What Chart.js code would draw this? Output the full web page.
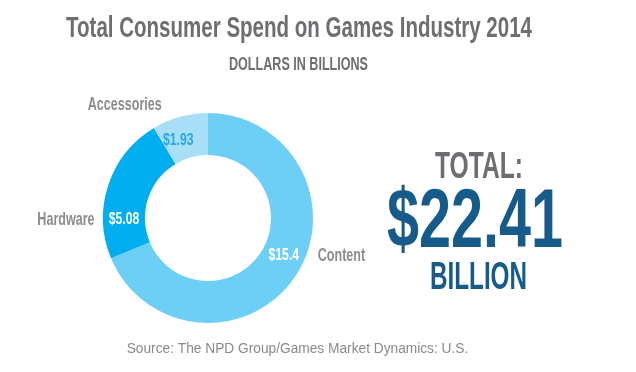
<!DOCTYPE html>
<html>
<head>
<meta charset="utf-8">
<script src="https://cdn.jsdelivr.net/npm/chart.js@4.4.0/dist/chart.umd.min.js"></script>
<style>
  html, body { margin: 0; padding: 0; background: #fff; }
  canvas { display: block; }
</style>
</head>
<body>
<canvas id="spendChart" width="636" height="372"></canvas>
<script>
// data (dollars in billions)
const categories = ['Content', 'Hardware', 'Accessories'];
const spend = [15.4, 5.08, 1.93];
const valueLabels = ['$15.4', '$5.08', '$1.93'];
const sliceColors = ['#6dcff6', '#00aeef', '#a8dff7'];

const FONT = '"Liberation Sans", Arial, sans-serif';

// draw text squeezed horizontally to mimic the condensed face
function condText(ctx, text, x, y, size, weight, color, align, sx) {
  ctx.save();
  ctx.font = `${weight} ${size}px ${FONT}`;
  ctx.fillStyle = color;
  ctx.textAlign = 'left';
  ctx.textBaseline = 'alphabetic';
  const w = ctx.measureText(text).width * sx;
  let left = x;
  if (align === 'center') left = x - w / 2;
  else if (align === 'right') left = x - w;
  ctx.translate(left, y);
  ctx.scale(sx, 1);
  ctx.fillText(text, 0, 0);
  ctx.restore();
}

function fitText(ctx, text, cx, baseline, capH, width, weight, color) {
  const size = capH / 0.688;
  ctx.save();
  ctx.font = `${weight} ${size}px ${FONT}`;
  const sx = width / ctx.measureText(text).width;
  ctx.restore();
  condText(ctx, text, cx, baseline, size, weight, color, 'center', sx);
}

const sliceLabels = {
  id: 'sliceLabels',
  afterDatasetsDraw(chart, args, opts) {
    const ctx = chart.ctx;
    chart.getDatasetMeta(0).data.forEach((arc, i) => {
      const p = arc.getProps(['x', 'y', 'startAngle', 'endAngle', 'innerRadius', 'outerRadius']);
      const a = p.startAngle + opts.along[i] * (p.endAngle - p.startAngle);
      const r = (p.innerRadius + p.outerRadius) / 2;
      const x = p.x + r * Math.cos(a);
      const y = p.y + r * Math.sin(a);
      condText(ctx, valueLabels[i], x, y + 6, 17, 'bold', opts.valueColors[i], 'center', 0.72);
      const o = opts.nameOffsets[i];
      condText(ctx, categories[i], x + o.dx, y + o.dy + 6.5, 19, 'bold', '#8b8c8e', o.align, 0.66);
    });
  }
};

const headings = {
  id: 'headings',
  afterDraw(chart) {
    const ctx = chart.ctx;
    const total = spend.reduce((s, v) => s + v, 0);
    fitText(ctx, 'Total Consumer Spend on Games Industry 2014', 299, 37, 20, 466, 'bold', '#6d6e71');
    fitText(ctx, 'DOLLARS IN BILLIONS', 298.5, 70, 12, 139, 'bold', '#6d6e71');
    fitText(ctx, 'TOTAL:', 479, 178, 26, 88, 'bold', '#6d6e71');
    fitText(ctx, '$' + total.toFixed(2), 475, 247, 58, 176, 'bold', '#175b8b');
    fitText(ctx, 'BILLION', 478.5, 289, 27, 97, 'bold', '#175b8b');
    condText(ctx, 'Source: The NPD Group/Games Market Dynamics: U.S.', 297.5, 353, 14, 'normal', '#8a8a8a', 'center', 0.98);
  }
};

const ctx = document.getElementById('spendChart').getContext('2d');
new Chart(ctx, {
  type: 'doughnut',
  data: {
    labels: categories,
    datasets: [{
      data: spend,
      backgroundColor: sliceColors,
      borderWidth: 0
    }]
  },
  options: {
    responsive: false,
    animation: false,
    devicePixelRatio: 1,
    cutout: '60%',
    layout: {
      padding: { left: 103, top: 113, right: 323, bottom: 49 }
    },
    plugins: {
      legend: { display: false },
      tooltip: { enabled: false },
      sliceLabels: {
        along: [0.467, 0.277, 0.33],
        valueColors: ['#ffffff', '#ffffff', '#27a9e1'],
        nameOffsets: [
          { dx: 34, dy: 0, align: 'left' },
          { dx: -29.5, dy: 0, align: 'right' },
          { dx: -16.5, dy: -36, align: 'right' }
        ]
      }
    }
  },
  plugins: [sliceLabels, headings]
});
</script>
</body>
</html>
